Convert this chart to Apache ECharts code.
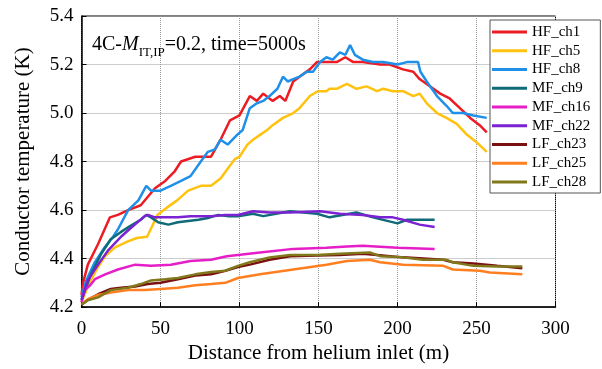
<!DOCTYPE html>
<html>
<head>
<meta charset="utf-8">
<script src="https://cdn.jsdelivr.net/npm/echarts@6/dist/echarts.min.js"></script>
<style>html,body{margin:0;padding:0;background:#fff;}#c{width:602px;height:369px;}</style>
</head>
<body>
<div id="c"></div>
<script>
// ---- data (distance m, temperature K) ----
const seriesNames = ['HF_ch1','HF_ch5','HF_ch8','MF_ch9','MF_ch16','MF_ch22','LF_ch23','LF_ch25','LF_ch28'];
const xTicks = [0,50,100,150,200,250,300];
const yTicks = [4.2,4.4,4.6,4.8,5.0,5.2,5.4];

const hfCh1 = [[0,4.25],[1,4.30],[4,4.375],[10.5,4.46],[18,4.57],[23,4.58],[29.5,4.60],[37.5,4.62],[46.5,4.69],[53,4.72],[59,4.76],[63,4.80],[72,4.82],[82,4.82],[88,4.89],[94,4.97],[100,4.99],[106.5,5.07],[111,5.05],[115,5.08],[121,5.05],[125.5,5.07],[129,5.05],[134,5.13],[138,5.15],[144.5,5.18],[149,5.21],[155,5.21],[161.5,5.21],[167,5.23],[172,5.21],[178,5.21],[189,5.20],[195,5.20],[203.5,5.18],[210,5.17],[214,5.14],[220.5,5.11],[227,5.08],[233,5.06],[239.5,5.02],[246,4.98],[252,4.95],[256.5,4.92]];
const hfCh5 = [[0,4.22],[5,4.30],[10,4.36],[15,4.41],[21,4.445],[29,4.47],[35,4.485],[41.5,4.49],[44.5,4.53],[48,4.58],[54,4.61],[60.5,4.64],[67.5,4.68],[75.5,4.70],[82,4.70],[88,4.73],[92.5,4.77],[97,4.81],[100,4.82],[105,4.87],[108.5,4.89],[113,4.91],[117.5,4.93],[121,4.95],[127.5,4.98],[134,5.00],[138,5.02],[144.5,5.07],[149.5,5.09],[155,5.09],[157,5.10],[161.5,5.10],[168,5.12],[174,5.10],[180.5,5.11],[187,5.09],[191,5.10],[197,5.09],[203.5,5.09],[210,5.07],[214,5.08],[218.5,5.04],[225,5.00],[231,4.98],[237.5,4.955],[244,4.91],[250,4.88],[256.5,4.84]];
const hfCh8 = [[0,4.24],[3,4.31],[8,4.38],[14,4.44],[20,4.49],[23,4.52],[29.5,4.60],[36,4.64],[41,4.70],[44,4.68],[50,4.68],[56.5,4.70],[63,4.72],[69,4.74],[75.5,4.80],[80,4.84],[84.5,4.85],[88,4.89],[92.5,4.87],[98.5,4.91],[102,4.93],[106.5,5.02],[111,5.04],[115,5.05],[119,5.07],[124,5.10],[127.5,5.15],[130.5,5.13],[134,5.14],[138,5.15],[142.5,5.17],[146.5,5.17],[151,5.21],[155,5.23],[159,5.22],[163.5,5.25],[167,5.24],[170,5.28],[173,5.24],[178,5.22],[184.5,5.21],[191,5.21],[200,5.20],[206,5.21],[213,5.21],[214.5,5.17],[218.5,5.13],[225,5.07],[231,5.03],[235,5.00],[241.5,5.00],[248,4.99],[256.5,4.98]];
const mfCh9 = [[0,4.23],[6,4.335],[12.5,4.42],[18.5,4.48],[25,4.51],[31,4.535],[37.5,4.56],[41,4.58],[44,4.57],[48.5,4.55],[55,4.54],[61,4.55],[67.5,4.555],[74,4.56],[80,4.567],[86.5,4.58],[92.5,4.575],[100,4.575],[108.5,4.585],[115,4.575],[132,4.595],[149,4.585],[157,4.57],[174,4.59],[184.5,4.57],[200,4.545],[206,4.56],[223.5,4.56]];
const mfCh16 = [[0,4.22],[2,4.27],[5.5,4.29],[8.5,4.315],[15,4.335],[23,4.355],[34,4.375],[44,4.37],[56.5,4.375],[69,4.39],[82,4.395],[92,4.41],[113,4.425],[134,4.44],[155,4.445],[168,4.45],[178,4.453],[200,4.445],[223.5,4.44]];
const mfCh22 = [[0,4.23],[4,4.31],[10.5,4.375],[17,4.435],[25,4.49],[31,4.525],[40,4.575],[42,4.58],[46.5,4.57],[53,4.57],[61,4.57],[69,4.575],[82,4.575],[91,4.58],[99,4.58],[108.5,4.595],[119,4.59],[132,4.59],[151,4.595],[163.5,4.585],[178,4.58],[189,4.57],[197,4.57],[203.5,4.56],[214,4.54],[223.5,4.53]];
const lfCh23 = [[0,4.21],[4,4.23],[10.5,4.253],[18.5,4.275],[25,4.28],[34,4.285],[42,4.295],[50,4.30],[61,4.315],[72,4.33],[82,4.335],[91,4.35],[99,4.365],[106.5,4.375],[119,4.395],[132,4.41],[149,4.413],[163.5,4.415],[178,4.42],[187,4.415],[203.5,4.405],[229,4.395],[235,4.385],[248,4.38],[263,4.37],[279,4.36]];
const lfCh25 = [[0,4.21],[4,4.233],[10.5,4.25],[18.5,4.26],[29.5,4.27],[40,4.27],[50,4.275],[61,4.28],[72,4.29],[82,4.295],[91,4.30],[99,4.32],[113,4.335],[134,4.355],[155,4.375],[168,4.39],[182.5,4.395],[189,4.385],[203.5,4.375],[229,4.37],[235,4.355],[252,4.35],[258.5,4.343],[279,4.335]];
const lfCh28 = [[0,4.21],[4,4.228],[10.5,4.24],[18.5,4.27],[29.5,4.28],[37.5,4.295],[44,4.31],[53,4.315],[61,4.32],[72,4.335],[82,4.345],[91,4.35],[99,4.37],[106.5,4.385],[119,4.405],[132,4.415],[149,4.415],[163.5,4.42],[182.5,4.425],[189,4.41],[203.5,4.405],[216,4.395],[231,4.395],[235,4.385],[248,4.37],[263,4.367],[279,4.367]];

const seriesData = [hfCh1, hfCh5, hfCh8, mfCh9, mfCh16, mfCh22, lfCh23, lfCh25, lfCh28];
const colors = ['#ec1c24','#ffc20e','#1e90ea','#0f6b78','#e61ec8','#7b22d2','#7a1010','#ff7f20','#80781a'];

const FONT = '"Liberation Serif", "Times New Roman", serif';
const chart = echarts.init(document.getElementById('c'), null, {renderer: 'canvas'});
chart.setOption({
  animation: false,
  backgroundColor: '#fff',
  grid: {left: 81.5, right: 46.5, top: 16, bottom: 59, show: true, borderColor: '#000', borderWidth: 1, backgroundColor: 'transparent'},
  xAxis: {
    type: 'value', min: 0, max: 300, interval: 50,
    name: 'Distance from helium inlet (m)', nameLocation: 'middle', nameGap: 29,
    nameTextStyle: {fontFamily: FONT, fontSize: 21, color: '#000'},
    axisLine: {lineStyle: {color: '#000', width: 1.5}},
    axisTick: {inside: true, length: 5, lineStyle: {color: '#000'}},
    axisLabel: {fontFamily: FONT, fontSize: 19, color: '#000', margin: 12, formatter: v => xTicks.includes(v) ? String(v) : ''},
    splitLine: {show: true, lineStyle: {color: '#999', type: 'dotted', width: 1}}
  },
  yAxis: {
    type: 'value', min: 4.2, max: 5.4, interval: 0.2,
    name: 'Conductor temperature (K)', nameLocation: 'middle', nameGap: 48,
    nameTextStyle: {fontFamily: FONT, fontSize: 21, color: '#000'},
    axisLine: {show: true, lineStyle: {color: '#000', width: 1.5}},
    axisTick: {show: true, inside: true, length: 5, lineStyle: {color: '#000'}},
    axisLabel: {fontFamily: FONT, fontSize: 19, color: '#000', margin: 8, formatter: v => v.toFixed(1)},
    splitLine: {show: true, lineStyle: {color: '#999', type: 'dotted', width: 1}}
  },
  legend: {
    orient: 'vertical', left: 490, top: 20, icon: 'rect', itemWidth: 35, itemHeight: 3, itemGap: 3.75,
    padding: [4.5, 10, 3.5, 2], backgroundColor: '#fff', borderColor: '#555', borderWidth: 1,
    textStyle: {fontFamily: FONT, fontSize: 15, lineHeight: 15, color: '#000'},
    data: seriesNames
  },
  graphic: [{
    type: 'text', left: 92, top: 35, z: 10,
    style: {
      text: '{n|4C-}{i|M}{s|IT,IP}{n|=0.2, time=5000s}',
      fontFamily: FONT,
      rich: {
        n: {fontFamily: FONT, fontSize: 20, lineHeight: 24, verticalAlign: 'top', fill: '#000'},
        i: {fontFamily: FONT, fontSize: 20, lineHeight: 24, verticalAlign: 'top', fontStyle: 'italic', fill: '#000'},
        s: {fontFamily: FONT, fontSize: 13, lineHeight: 13, verticalAlign: 'bottom', fill: '#000'}
      }
    }
  }],
  series: seriesNames.map((n, i) => ({
    name: n, type: 'line', data: seriesData[i], showSymbol: false, symbol: 'none',
    lineStyle: {color: colors[i], width: 2.5}, itemStyle: {color: colors[i]}, z: 2
  }))
});
</script>
</body>
</html>
